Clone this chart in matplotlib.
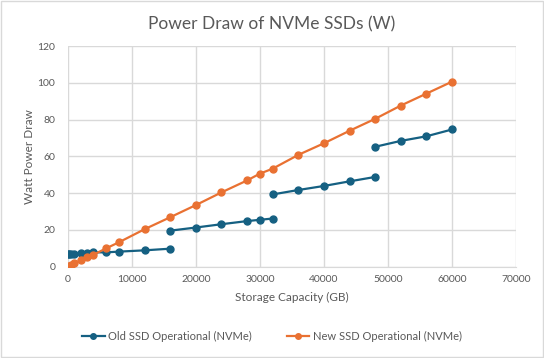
import numpy as np
import matplotlib.pyplot as plt
from matplotlib.patches import Rectangle

# storage capacity (GB) and power draw (W)
capacity = [0, 250, 500, 1000, 2000, 3000, 4000, 6000, 8000, 12000, 16000,
            16000, 20000, 24000, 28000, 30000, 32000,
            32000, 36000, 40000, 44000, 48000,
            48000, 52000, 56000, 60000]
old_power = [6.8, 6.8, 6.8, 6.9, 7.2, 7.5, 7.8, 7.8, 8.2, 8.9, 9.8,
             19.6, 21.3, 23.1, 24.8, 25.5, 26.2,
             39.3, 41.7, 43.9, 46.4, 48.8,
             65.2, 68.4, 70.9, 74.6]
# the old series jumps at these points, the line is broken there
old_breaks = [11, 17, 22]

new_capacity = [0, 250, 500, 1000, 2000, 3000, 4000, 6000, 8000, 12000, 16000,
                20000, 24000, 28000, 30000, 32000, 36000, 40000, 44000,
                48000, 52000, 56000, 60000]
new_power = [0, 0.4, 0.9, 1.8, 3.5, 5.1, 6.5, 10.0, 13.3, 20.4, 26.9,
             33.5, 40.4, 46.9, 50.6, 53.3, 60.8, 67.1, 73.9,
             80.4, 87.6, 94.1, 100.6]

blue = '#156082'
orange = '#E97132'
grey = '#595959'
grid = '#D9D9D9'

plt.rcParams['font.family'] = ['Lato', 'DejaVu Sans']

fig = plt.figure(figsize=(5.44, 3.58), dpi=100)
ax = fig.add_axes([67.8 / 544, 1 - 266.7 / 358, (516 - 67.8) / 544, (266.7 - 46) / 358])

# old series drawn piece by piece so the jumps are not joined
x = np.array(capacity, dtype=float)
y = np.array(old_power, dtype=float)
cuts = [0] + old_breaks + [len(x)]
for i in range(len(cuts) - 1):
    a, b = cuts[i], cuts[i + 1]
    ax.plot(x[a:b], y[a:b], color=blue, lw=1.6, marker='o', ms=5, zorder=3,
            label='Old SSD Operational (NVMe)' if i == 0 else None)

ax.plot(new_capacity, new_power, color=orange, lw=1.6, marker='o', ms=5, zorder=3,
        label='New SSD Operational (NVMe)')

ax.set_xlim(0, 70000)
ax.set_ylim(0, 120)
ax.set_xticks(range(0, 70001, 10000))
ax.set_yticks(range(0, 121, 20))
ax.grid(True, color=grid, lw=1)
ax.set_axisbelow(True)
for s in ['top', 'right', 'left']:
    ax.spines[s].set_visible(False)
ax.spines['bottom'].set_color(grid)
ax.tick_params(length=0, colors=grey, labelsize=7.5)
ax.tick_params(axis='x', pad=6)
ax.tick_params(axis='y', pad=9)

ax.set_xlabel('Storage Capacity (GB)', color=grey, fontsize=8.5, labelpad=6)
ax.set_ylabel('Watt Power Draw', color=grey, fontsize=8.5, labelpad=2)
fig.text(0.5, 1 - 24 / 358, 'Power Draw of NVMe SSDs (W)', ha='center', va='center',
         color=grey, fontsize=12.5)

fig.legend(loc='center', bbox_to_anchor=(0.5, 1 - 336 / 358), ncol=2, frameon=False,
           fontsize=8, labelcolor=grey, handlelength=2.0, handletextpad=0.3,
           columnspacing=3.2, markerscale=0.8)

fig.patches.append(Rectangle((0.002, 0.003), 0.996, 0.994, transform=fig.transFigure,
                             fill=False, edgecolor=grid, lw=1))

fig.savefig('out.png', dpi=100)
